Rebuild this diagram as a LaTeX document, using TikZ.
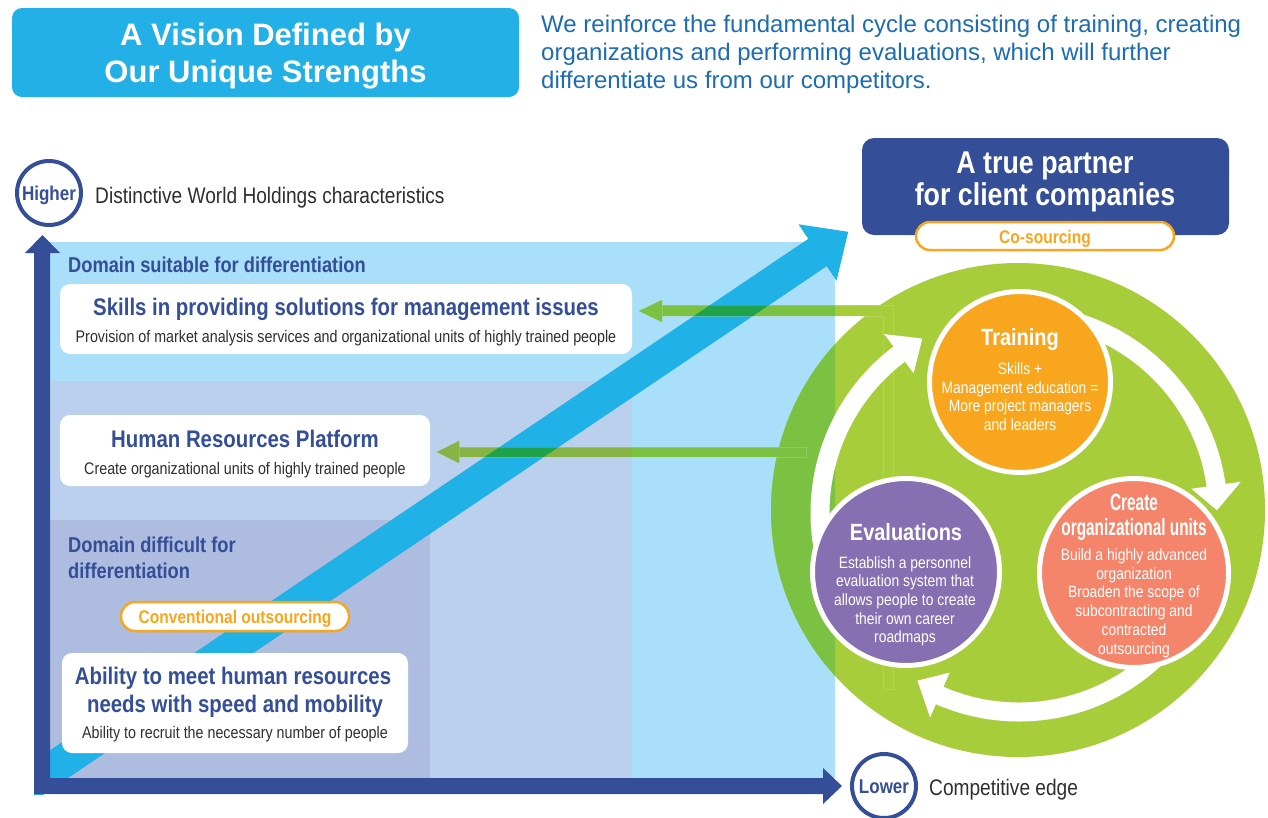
\documentclass[tikz,border=0pt]{standalone}
\usepackage{fontspec}
\usepackage{graphicx}
\setmainfont{Liberation Sans}
\newfontfamily\cnd[FakeStretch=0.85]{Liberation Sans}
\newcommand\myfs[1]{\fontsize{#1}{#1}\selectfont}
\definecolor{navy}{HTML}{344E97}
\definecolor{titlecyan}{HTML}{22B0E6}
\definecolor{parablue}{HTML}{1C6CB2}
\definecolor{lcyan}{HTML}{A9DFF9}
\definecolor{lmid}{HTML}{BAD0EC}
\definecolor{ldark}{HTML}{ADBCDF}
\definecolor{cband}{HTML}{20B1E6}
\definecolor{limeg}{HTML}{A7CD3A}
\definecolor{gcirc}{HTML}{7BC142}
\definecolor{gcyan}{HTML}{7CC242}
\definecolor{golive}{HTML}{87B545}
\definecolor{gband}{HTML}{1FA24A}
\definecolor{orng}{HTML}{F7A61D}
\definecolor{purp}{HTML}{8670B1}
\definecolor{salm}{HTML}{F4846A}
\definecolor{dtext}{HTML}{2E2E2E}
\tikzset{
 tb/.style={inner sep=0pt, anchor=base},
 ttl/.style={tb, font={\cnd\bfseries\myfs{24}}, text=navy},
 subt/.style={tb, font={\cnd\myfs{16.8}}, text=dtext},
 dom/.style={tb, anchor=base west, font={\cnd\bfseries\myfs{21.5}}, text=navy},
 ctitle/.style={tb, font={\cnd\bfseries\myfs{23.5}}, text=white},
 cbody/.style={tb, font={\cnd\myfs{16.3}}, text=white},
 pill/.style={fill=white, draw=orng, line width=2.5pt, rounded corners=14pt},
 pilltxt/.style={tb, font={\cnd\bfseries\myfs{18.3}}, text=orng},
 axring/.style={circle, draw=navy, line width=4pt, fill=white, minimum size=64pt, inner sep=0pt},
 axword/.style={tb, font={\cnd\bfseries\myfs{20}}, text=navy},
 axtxt/.style={tb, anchor=base west, font={\cnd\myfs{22.5}}, text=dtext},
 para/.style={tb, anchor=base west, font={\myfs{24}}, text=parablue},
 bigttl/.style={tb, font={\bfseries\myfs{31}}, text=white},
 navyttl/.style={tb, font={\cnd\bfseries\myfs{31.5}}, text=white},
 cyc/.style={circle, draw=white, line width=5pt, inner sep=0pt},
 faint/.style={draw=white, draw opacity=.15, line width=.6pt},
}
\begin{document}
\begin{tikzpicture}[x=1pt,y=-1pt]
\useasboundingbox (0,0) rectangle (1268,817);
% background domains
\fill[lcyan] (50,242) rectangle (835,778);
\fill[lmid] (50,381) rectangle (632,778);
\fill[ldark] (50,520) rectangle (430,778);
% big green circle
\fill[limeg] (1018,510) circle[radius=247pt];
\begin{scope}
\clip (50,242) rectangle (835,778);
\fill[gcirc] (1018,510) circle[radius=247pt];
\end{scope}
% cyan diagonal arrow
\begin{scope}
\clip (34,0) rectangle (1268,794);
\fill[cband] (-2.3,825.4) -- (826.7,266.2) -- (836.5,280.7) -- (848.2,231.8) -- (798.5,224.3) -- (808.3,238.8) -- (-20.7,798.0) -- cycle;
\end{scope}
% upper green arrow
\fill[limeg] (639,311) -- (662,300) -- (662,305) -- (893,305) -- (893,689) -- (883,689) -- (883,316) -- (662,316) -- (662,322) -- cycle;
\begin{scope}
\clip (0,0) rectangle (835,817);
\fill[gcyan] (639,311) -- (662,300) -- (662,305) -- (893,305) -- (893,689) -- (883,689) -- (883,316) -- (662,316) -- (662,322) -- cycle;
\clip (-2.3,825.4) -- (826.7,266.2) -- (836.5,280.7) -- (848.2,231.8) -- (798.5,224.3) -- (808.3,238.8) -- (-20.7,798.0) -- cycle;
\fill[gband] (639,311) -- (662,300) -- (662,305) -- (893,305) -- (893,689) -- (883,689) -- (883,316) -- (662,316) -- (662,322) -- cycle;
\end{scope}
\path[faint] (662,305) -- (893,305) -- (893,689) -- (883,689) -- (883,316) -- (662,316) -- cycle;
% lower green arrow
\fill[gcyan] (437,452) -- (459,441) -- (459,447) -- (806,447) -- (806,457) -- (459,457) -- (459,463) -- cycle;
\begin{scope}
\clip (50,381) rectangle (632,778);
\fill[golive] (437,452) -- (459,441) -- (459,447) -- (806,447) -- (806,457) -- (459,457) -- (459,463) -- cycle;
\end{scope}
\begin{scope}
\clip (-2.3,825.4) -- (826.7,266.2) -- (836.5,280.7) -- (848.2,231.8) -- (798.5,224.3) -- (808.3,238.8) -- (-20.7,798.0) -- cycle;
\fill[gband] (437,452) -- (459,441) -- (459,447) -- (806,447) -- (806,457) -- (459,457) -- (459,463) -- cycle;
\end{scope}
\path[faint] (459,447) -- (806,447) -- (806,457) -- (459,457) -- cycle;
% white boxes
\fill[white, rounded corners=10pt] (60,284) rectangle (632,354);
\fill[white, rounded corners=10pt] (60,415) rectangle (430,486);
\fill[white, rounded corners=10pt] (62,653) rectangle (408,753);
\draw[pill] (121,602) rectangle (349,631);
% left texts
\node[dom] (d1) at (68,272) {Domain suitable for differentiation};
\node[ttl] (b1t) at (346,315) {Skills in providing solutions for management issues};
\node[subt] (b1s) at (346,342) {Provision of market analysis services and organizational units of highly trained people};
\node[ttl] (b2t) at (245,447) {Human Resources Platform};
\node[subt] (b2s) at (245,474) {Create organizational units of highly trained people};
\node[dom] (d2a) at (68,552) {Domain difficult for};
\node[dom] (d2b) at (68,578) {differentiation};
\node[pilltxt] (conv) at (235,623) {Conventional outsourcing};
\node[ttl] (b3a) at (233,684) {Ability to meet human resources};
\node[ttl] (b3b) at (235,712) {needs with speed and mobility};
\node[subt] (b3s) at (235,738) {Ability to recruit the necessary number of people};
% axes
\fill[navy] (34,794) -- (34,253) -- (25,253) -- (42.5,235) -- (60,253) -- (50,253) -- (50,778) -- (823,778) -- (823,768) -- (842,786) -- (823,804) -- (823,794) -- cycle;
\node[axring] (hi) at (49,193) {};
\node[axword] (hiw) at (49,200) {Higher};
\node[axtxt] (hit) at (95,203) {Distinctive World Holdings characteristics};
\node[axring] (lo) at (884,786) {};
\node[axword] (low) at (884,793) {Lower};
\node[axtxt] (lot) at (929,795) {Competitive edge};
% cycle arrows
\begin{scope}[shift={(1019,513)}]
\fill[white] (210:208.5pt) arc[start angle=210,end angle=127,radius=208.5pt] -- (127:224pt) -- (119:199.5pt) -- (127:175pt) -- (127:189.5pt) arc[start angle=127,end angle=210,radius=189.5pt] -- cycle;
\fill[white] (80:208.5pt) arc[start angle=80,end angle=8,radius=208.5pt] -- (8:224pt) -- (0.8:198pt) -- (8:174pt) -- (8:189.5pt) arc[start angle=8,end angle=80,radius=189.5pt] -- cycle;
\fill[white] (320:208.5pt) arc[start angle=320,end angle=246.5,radius=208.5pt] -- (246.5:223pt) -- (238.8:196pt) -- (246.5:174pt) -- (246.5:189.5pt) arc[start angle=246.5,end angle=320,radius=189.5pt] -- cycle;
\end{scope}
% cycle circles
\node[cyc, fill=orng, minimum size=181pt] (train) at (1020,382) {};
\node[cyc, fill=purp, minimum size=187pt] (eval) at (906,572) {};
\node[cyc, fill=salm, minimum size=189pt] (create) at (1134,573) {};
\node[ctitle] (tr0) at (1020,345) {Training};
\node[cbody] (tr1) at (1020,374) {Skills +};
\node[cbody] (tr2) at (1020,393) {Management education =};
\node[cbody] (tr3) at (1020,411) {More project managers};
\node[cbody] (tr4) at (1020,430) {and leaders};
\node[ctitle] (ev0) at (906,540) {Evaluations};
\node[cbody] (ev1) at (905,568) {Establish a personnel};
\node[cbody] (ev2) at (905,586) {evaluation system that};
\node[cbody] (ev3) at (905,605) {allows people to create};
\node[cbody] (ev4) at (905,624) {their own career};
\node[cbody] (ev5) at (905,642) {roadmaps};
\node[ctitle] (cr0) at (1134,510) {\scalebox{0.77}[1]{Create}};
\node[ctitle] (cr1) at (1134,535) {\scalebox{0.77}[1]{organizational units}};
\node[cbody] (cr2) at (1134,560) {Build a highly advanced};
\node[cbody] (cr3) at (1134,579) {organization};
\node[cbody] (cr4) at (1134,597) {Broaden the scope of};
\node[cbody] (cr5) at (1134,616) {subcontracting and};
\node[cbody] (cr6) at (1134,635) {contracted};
\node[cbody] (cr7) at (1134,654) {outsourcing};
% partner box
\fill[navy, rounded corners=12pt] (862,138) rectangle (1229,235);
\node[navyttl] (p1) at (1045,173) {A true partner};
\node[navyttl] (p2) at (1045,205) {for client companies};
\draw[pill] (916,222) rectangle (1174,250);
\node[pilltxt] (cos) at (1045,243) {Co-sourcing};
% title
\fill[titlecyan, rounded corners=10pt] (12,8) rectangle (519,97);
\node[bigttl] (t1) at (265.5,45) {A Vision Defined by};
\node[bigttl] (t2) at (265.5,82) {Our Unique Strengths};
\node[para] (pa1) at (541,32) {We reinforce the fundamental cycle consisting of training, creating};
\node[para] (pa2) at (541,60) {organizations and performing evaluations, which will further};
\node[para] (pa3) at (541,88) {differentiate us from our competitors.};
\end{tikzpicture}
\end{document}
